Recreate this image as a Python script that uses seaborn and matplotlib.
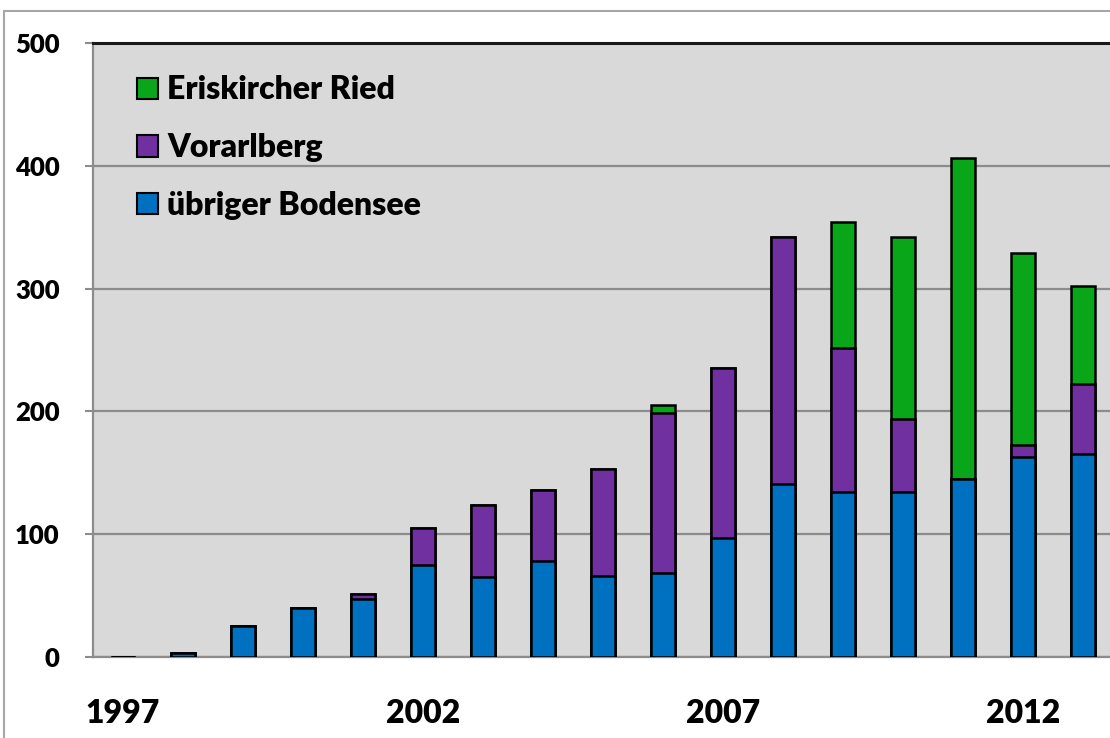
import matplotlib
matplotlib.use("Agg")
import matplotlib.pyplot as plt
import seaborn as sns
import pandas as pd
import numpy as np
from matplotlib.patches import Rectangle, Patch

years = [str(y) for y in range(1997, 2014)]
uebriger_bodensee = [0, 3, 25, 40, 47, 75, 65, 78, 66, 68, 97, 141, 134, 134, 145, 163, 165]
vorarlberg        = [0, 0, 0, 0, 4, 30, 59, 58, 87, 131, 138, 201, 118, 60, 0, 10, 57]
eriskircher_ried  = [0, 0, 0, 0, 0, 0, 0, 0, 0, 6, 0, 0, 102, 148, 261, 156, 80]
series_names = ["Eriskircher Ried", "Vorarlberg", "übriger Bodensee"]
year_labels = ["1997", "2002", "2007", "2012"]
y_ticks = [0, 100, 200, 300, 400, 500]

c_blue, c_purple, c_green = "#0070C0", "#7030A0", "#0AA619"

sns.set_theme(style="white")
plt.rcParams["font.family"] = ["Lato", "DejaVu Sans"]
plt.rcParams["font.weight"] = "heavy"
plt.rcParams["text.color"] = "black"

W, H = 1110, 738
fig = plt.figure(figsize=(W / 100, H / 100), dpi=100)
ax = fig.add_axes([93 / W, 1 - 657 / H, (1113 - 93) / W, (657 - 43) / H])
ax.set_facecolor("#D9D9D9")

df = pd.DataFrame({
    "year": years,
    "blue": uebriger_bodensee,
    "purple": np.array(uebriger_bodensee) + np.array(vorarlberg),
})
df["green"] = df["purple"] + np.array(eriskircher_ried)

for col, colr in [("green", c_green), ("purple", c_purple), ("blue", c_blue)]:
    sns.barplot(data=df, x="year", y=col, color=colr, order=years, width=0.4,
                edgecolor="black", linewidth=1.8, saturation=1, ax=ax, zorder=3)

ax.set_xlim(-0.5, len(years) - 0.5)
ax.set_ylim(0, 500)
ax.set_yticks(y_ticks)
ax.set_yticklabels([str(v) for v in y_ticks], fontsize=18.5, fontweight="heavy")
ax.yaxis.grid(True, color="#8C8C8C", linewidth=1.6, zorder=1)
ax.set_axisbelow(True)

pos = [years.index(y) for y in year_labels]
ax.set_xticks(pos)
ax.set_xticklabels(year_labels, fontsize=23, fontweight="heavy")
ax.tick_params(axis="x", which="major", length=0, pad=30, labelcolor="black")
ax.set_xticks(np.arange(-0.5, len(years), 1.0), minor=True)
ax.tick_params(axis="x", which="minor", length=8, width=1.5, color="#8C8C8C", direction="out")
ax.tick_params(axis="y", length=6, width=1.5, color="#8C8C8C", direction="out", pad=18,
               left=True, labelcolor="black")
ax.set_xlabel("")
ax.set_ylabel("")

for s in ["left", "bottom"]:
    ax.spines[s].set_color("#8C8C8C")
    ax.spines[s].set_linewidth(1.6)
ax.spines["top"].set_color("#1A1A1A")
ax.spines["top"].set_linewidth(2.2)
ax.spines["right"].set_visible(False)

handles = [Patch(facecolor=c, edgecolor="black", linewidth=1.5) for c in (c_green, c_purple, c_blue)]
leg = ax.legend(handles, series_names, loc="upper left", bbox_to_anchor=(0.031, 0.968),
                frameon=False, fontsize=23, handlelength=0.65, handleheight=0.65,
                handletextpad=0.28, labelspacing=0.9, borderaxespad=0)
for t in leg.get_texts():
    t.set_fontweight("heavy")
    t.set_color("black")

fig.add_artist(Rectangle((4 / W, -0.1), 2.0, 1 - 11 / H + 0.1, transform=fig.transFigure,
                         fill=False, edgecolor="#A6A6A6", linewidth=1.5))

fig.savefig("out.png", dpi=100)
